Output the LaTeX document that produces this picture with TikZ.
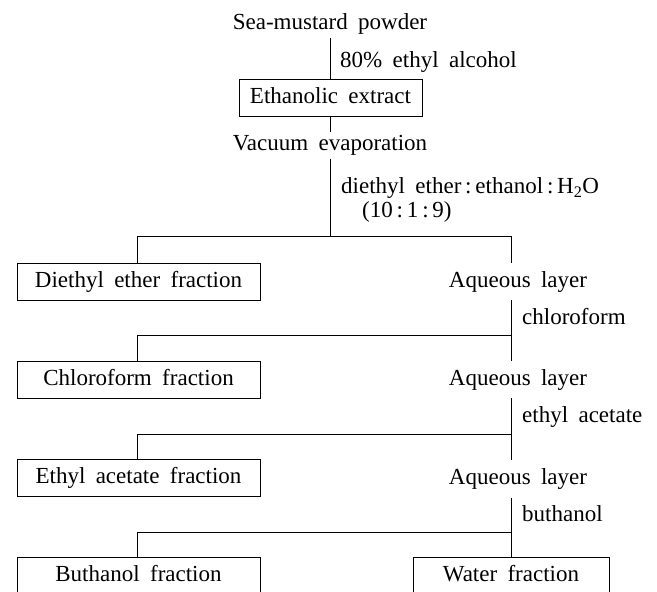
\documentclass[tikz,border=0pt]{standalone}
\usepackage{fontspec}
\setmainfont[WordSpace=1.8]{Liberation Serif}
\begin{document}
\begin{tikzpicture}[x=1pt,y=-1pt,
  every node/.style={font=\fontsize{23}{27}\selectfont, inner sep=0pt, text height=16pt, text depth=5pt},
  txt/.style={outer sep=3pt},
  lbl/.style={anchor=west},
  box/.style={draw, line width=0.9pt, minimum height=37pt},
  lbox/.style={box, minimum width=243pt},
  aq/.style={minimum height=37pt},
  conn/.style={line width=0.9pt}]
\clip (0,0) rectangle (657,592);
% top part
\node[txt] (smp) at (330,24) {Sea-mustard powder};
\node[lbl] (alc) at (340,62) {80\% ethyl alcohol};
\node[box, minimum width=183pt] (ext) at (330.5,97.5) {Ethanolic extract};
\node[txt] (vac) at (330,145) {Vacuum evaporation};
\node[lbl] (dee) at (341,188) {diethyl ether\,:\,ethanol\,:\,H\textsubscript{2}O};
\node[lbl] (rat) at (362,212) {(10\,:\,1\,:\,9)};
% junctions
\coordinate (j1) at (330,236);
\coordinate (l1) at (137,236);
\coordinate (r1) at (511,236);
\coordinate (j2) at (511,335);
\coordinate (l2) at (137,335);
\coordinate (j3) at (511,434);
\coordinate (l3) at (137,434);
\coordinate (j4) at (511,532);
\coordinate (l4) at (137,532);
% level 1
\node[lbox] (f1) at (138.5,281.5) {Diethyl ether fraction};
\node[aq] (aq1) at (518,281.5) {Aqueous layer};
\node[lbl] (chl) at (522,319) {chloroform};
% level 2
\node[lbox] (f2) at (138.5,379.5) {Chloroform fraction};
\node[aq] (aq2) at (518,379.5) {Aqueous layer};
\node[lbl] (eac) at (522,417) {ethyl acetate};
% level 3
\node[lbox] (f3) at (138.5,477.5) {Ethyl acetate fraction};
\node[aq] (aq3) at (518,479) {Aqueous layer};
\node[lbl] (but) at (522,516) {buthanol};
% level 4
\node[lbox] (f4) at (138.5,575.5) {Buthanol fraction};
\node[box, minimum width=196pt] (wat) at (511,575.5) {Water fraction};
% connectors
\draw[conn] (smp.south) -- (smp.south |- ext.north);
\draw[conn] (ext.south -| vac.north) -- (vac.north);
\draw[conn] (vac.south) -- (j1);
\draw[conn] (l1) -- (r1);
\draw[conn] (l1) -- (l1 |- f1.north);
\draw[conn] (r1) -- (r1 |- aq1.north);
\draw[conn] (r1 |- aq1.south) -- (j2);
\draw[conn] (j2) -- (j2 |- aq2.north);
\draw[conn] (l2) -- (j2);
\draw[conn] (l2) -- (l2 |- f2.north);
\draw[conn] (j2 |- aq2.south) -- (j3);
\draw[conn] (j3) -- (j3 |- aq3.north);
\draw[conn] (l3) -- (j3);
\draw[conn] (l3) -- (l3 |- f3.north);
\draw[conn] (j3 |- aq3.south) -- (j4);
\draw[conn] (j4) -- (j4 |- wat.north);
\draw[conn] (l4) -- (j4);
\draw[conn] (l4) -- (l4 |- f4.north);
\end{tikzpicture}
\end{document}
